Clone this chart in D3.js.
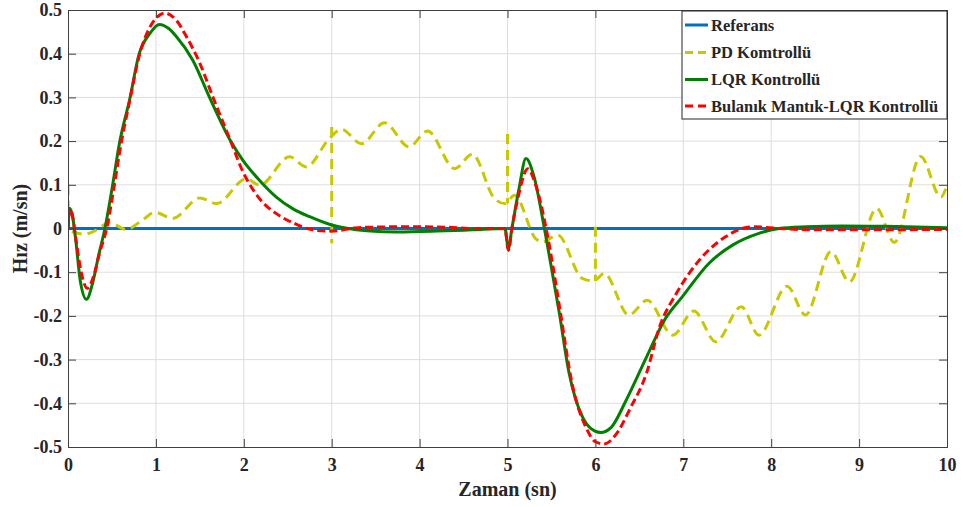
<!DOCTYPE html>
<html>
<head>
<meta charset="utf-8">
<script src="https://cdn.jsdelivr.net/npm/d3@7"></script>
<style>
 body { margin: 0; background: #fff; }
 text { font-family: "Liberation Serif", "Times New Roman", serif; font-weight: bold; fill: #262626; }
 .grid line { stroke: #dedede; stroke-width: 1; }
</style>
</head>
<body>
<div id="chart"></div>
<script>
// zaman ekseni ve seriler
var xTicks = [0, 1, 2, 3, 4, 5, 6, 7, 8, 9, 10];
var yTicks = [-0.5, -0.4, -0.3, -0.2, -0.1, 0, 0.1, 0.2, 0.3, 0.4, 0.5];
var yTickLabels = ["-0.5", "-0.4", "-0.3", "-0.2", "-0.1", "0", "0.1", "0.2", "0.3", "0.4", "0.5"];

var refT = [0, 10];
var refV = [0, 0];

var lqrT = [0, 0.02, 0.05, 0.09, 0.14, 0.21, 0.28, 0.35, 0.42, 0.5, 0.59, 0.7, 0.81, 0.93, 1.04, 1.15, 1.23, 1.42, 1.61, 1.85, 1.99, 2.18, 2.37, 2.56, 2.75, 3.0, 3.4, 3.75, 4.2, 4.6, 4.97, 5.01, 5.05, 5.13, 5.21, 5.3, 5.42, 5.5, 5.59, 5.7, 5.85, 5.95, 6.06, 6.18, 6.35, 6.58, 6.8, 6.99, 7.29, 7.56, 7.86, 8.09, 8.4, 8.8, 9.3, 10];
var lqrV = [0, 0.046, 0.03, -0.03, -0.12, -0.162, -0.125, -0.06, 0, 0.09, 0.2, 0.294, 0.40, 0.446, 0.467, 0.457, 0.44, 0.385, 0.30, 0.20, 0.156, 0.11, 0.072, 0.045, 0.027, 0.008, -0.005, -0.008, -0.006, -0.003, 0, -0.046, 0, 0.09, 0.16, 0.12, 0, -0.09, -0.194, -0.33, -0.43, -0.458, -0.467, -0.455, -0.393, -0.295, -0.205, -0.156, -0.08, -0.038, -0.011, 0, 0.004, 0.006, 0.005, 0.002];

var fuzzyT = [0, 0.02, 0.05, 0.09, 0.15, 0.22, 0.29, 0.36, 0.44, 0.52, 0.6, 0.7, 0.81, 0.93, 1.02, 1.1, 1.23, 1.35, 1.5, 1.65, 1.85, 1.99, 2.18, 2.37, 2.56, 2.78, 3.0, 3.3, 3.8, 4.3, 4.6, 4.97, 5.01, 5.05, 5.13, 5.23, 5.32, 5.44, 5.52, 5.6, 5.74, 5.89, 6.0, 6.1, 6.22, 6.4, 6.58, 6.73, 6.92, 7.18, 7.48, 7.79, 8.1, 8.5, 9, 10];
var fuzzyV = [0, 0.045, 0.03, -0.025, -0.1, -0.137, -0.11, -0.055, 0, 0.09, 0.19, 0.29, 0.395, 0.46, 0.485, 0.493, 0.477, 0.438, 0.378, 0.30, 0.20, 0.13, 0.068, 0.034, 0.013, -0.003, -0.006, 0.002, 0.004, 0.003, 0, 0, -0.05, 0, 0.08, 0.137, 0.1, 0, -0.09, -0.19, -0.36, -0.454, -0.488, -0.493, -0.475, -0.41, -0.332, -0.225, -0.149, -0.073, -0.019, 0.004, 0, -0.003, -0.003, -0.002];

var pdT = [0, 0.01, 0.06, 0.19, 0.32, 0.47, 0.66, 0.82, 0.99, 1.19, 1.5, 1.69, 2.03, 2.18, 2.52, 2.71, 2.97, 3.11, 3.34, 3.6, 3.88, 4.09, 4.4, 4.6, 4.85, 4.97, 5.08, 5.32, 5.4, 5.57, 5.85, 5.98, 6.1, 6.38, 6.59, 6.88, 7.12, 7.37, 7.66, 7.86, 8.18, 8.39, 8.68, 8.89, 9.2, 9.4, 9.7, 9.93, 10];
var pdV = [0.1, 0, -0.008, -0.013, -0.004, 0.014, -0.002, 0.015, 0.037, 0.023, 0.07, 0.057, 0.114, 0.099, 0.164, 0.141, 0.205, 0.227, 0.194, 0.242, 0.187, 0.223, 0.137, 0.17, 0.069, 0.057, 0.076, -0.023, -0.031, -0.015, -0.114, -0.12, -0.103, -0.198, -0.164, -0.244, -0.189, -0.259, -0.179, -0.244, -0.132, -0.198, -0.053, -0.122, 0.046, -0.032, 0.165, 0.072, 0.099];
// PD eğrisindeki dikey sıçramalar
var pdSpikeT = [3, 5, 6];
var pdSpikeTop = [0.232, 0.216, 0.004];
var pdSpikeBottom = [-0.034, 0.057, -0.12];

var legendNames = ["Referans", "PD Komtrollü", "LQR Kontrollü", "Bulanık Mantık-LQR Kontrollü"];

var width = 963, height = 507;
var margin = { top: 10, right: 16, bottom: 60, left: 68 };

var svg = d3.select("#chart").append("svg")
    .attr("width", width)
    .attr("height", height);

var x = d3.scaleLinear().domain([0, 10]).range([margin.left, width - margin.right]);
var y = d3.scaleLinear().domain([-0.5, 0.5]).range([height - margin.bottom, margin.top]);

// grid
var grid = svg.append("g").attr("class", "grid");
grid.selectAll(".gx").data(xTicks.slice(1, -1)).enter().append("line")
    .attr("x1", d => x(d)).attr("x2", d => x(d))
    .attr("y1", y(-0.5)).attr("y2", y(0.5));
grid.selectAll(".gy").data(yTicks.slice(1, -1)).enter().append("line")
    .attr("y1", d => y(d)).attr("y2", d => y(d))
    .attr("x1", x(0)).attr("x2", x(10));

svg.append("clipPath").attr("id", "clip").append("rect")
    .attr("x", x(0)).attr("y", y(0.5))
    .attr("width", x(10) - x(0)).attr("height", y(-0.5) - y(0.5));

var plot = svg.append("g").attr("clip-path", "url(#clip)");

function zip(ts, vs) { return ts.map((t, i) => [t, vs[i]]); }

var line = d3.line().x(d => x(d[0])).y(d => y(d[1])).curve(d3.curveMonotoneX);

var series = [
  { data: zip(refT, refV), color: "#0072bd", dash: null },
  { data: zip(pdT, pdV), color: "#c8c800", dash: "10,6" },
  { data: zip(lqrT, lqrV), color: "#008000", dash: null },
  { data: zip(fuzzyT, fuzzyV), color: "#ff0000", dash: "8,4" }
];

series.forEach(function(s, i) {
  plot.append("path")
      .datum(s.data)
      .attr("d", line)
      .attr("fill", "none")
      .attr("stroke", s.color)
      .attr("stroke-width", 3)
      .attr("stroke-dasharray", s.dash);
  if (i == 1) {
    // sıçramalar
    plot.selectAll(".spike").data(pdSpikeT).enter().append("line")
        .attr("x1", d => x(d)).attr("x2", d => x(d))
        .attr("y1", (d, j) => y(pdSpikeTop[j]))
        .attr("y2", (d, j) => y(pdSpikeBottom[j]))
        .attr("stroke", s.color)
        .attr("stroke-width", 3)
        .attr("stroke-dasharray", "10,6");
  }
});

// axes (box with inward ticks)
var axisColor = "#404040";
var xAxis = svg.append("g")
    .attr("transform", "translate(0," + y(-0.5) + ")")
    .call(d3.axisBottom(x).tickValues(xTicks).tickSize(-8).tickPadding(11).tickFormat(d3.format("d")));
var xTop = svg.append("g")
    .attr("transform", "translate(0," + y(0.5) + ")")
    .call(d3.axisTop(x).tickValues(xTicks).tickSize(-8).tickFormat(""));
var yAxis = svg.append("g")
    .attr("transform", "translate(" + x(0) + ",0)")
    .call(d3.axisLeft(y).tickValues(yTicks).tickSize(-8).tickPadding(6)
      .tickFormat((d, i) => yTickLabels[i]));
var yRight = svg.append("g")
    .attr("transform", "translate(" + x(10) + ",0)")
    .call(d3.axisRight(y).tickValues(yTicks).tickSize(-8).tickFormat(""));

[xAxis, xTop, yAxis, yRight].forEach(function(a) {
  a.attr("font-family", null);
  a.select(".domain").attr("stroke", axisColor).attr("stroke-width", 1);
  a.selectAll(".tick line").attr("stroke", axisColor);
  a.selectAll("text")
    .style("font-size", "18px")
    .attr("fill", "#262626");
});

// axis titles
svg.append("text")
    .attr("x", (x(0) + x(10)) / 2)
    .attr("y", 496)
    .attr("text-anchor", "middle")
    .style("font-size", "20px")
    .text("Zaman (sn)");

svg.append("text")
    .attr("transform", "translate(27," + y(0) + ") rotate(-90)")
    .attr("text-anchor", "middle")
    .style("font-size", "20px")
    .text("Hız (m/sn)");

// legend
var lg = svg.append("g");
lg.append("rect")
    .attr("x", 682).attr("y", 11)
    .attr("width", x(10) - 682).attr("height", 108)
    .attr("fill", "#fff")
    .attr("stroke", "#262626")
    .attr("stroke-width", 1);

var rowY = [25, 52.5, 79.5, 106];
legendNames.forEach(function(name, i) {
  lg.append("line")
      .attr("x1", 685).attr("x2", 708)
      .attr("y1", rowY[i]).attr("y2", rowY[i])
      .attr("stroke", series[i].color)
      .attr("stroke-width", 3)
      .attr("stroke-dasharray", series[i].dash ? "8,5" : null);
  lg.append("text")
      .attr("x", 711).attr("y", rowY[i])
      .attr("dy", "0.35em")
      .style("font-size", "16.5px")
      .text(name);
});
</script>
</body>
</html>
